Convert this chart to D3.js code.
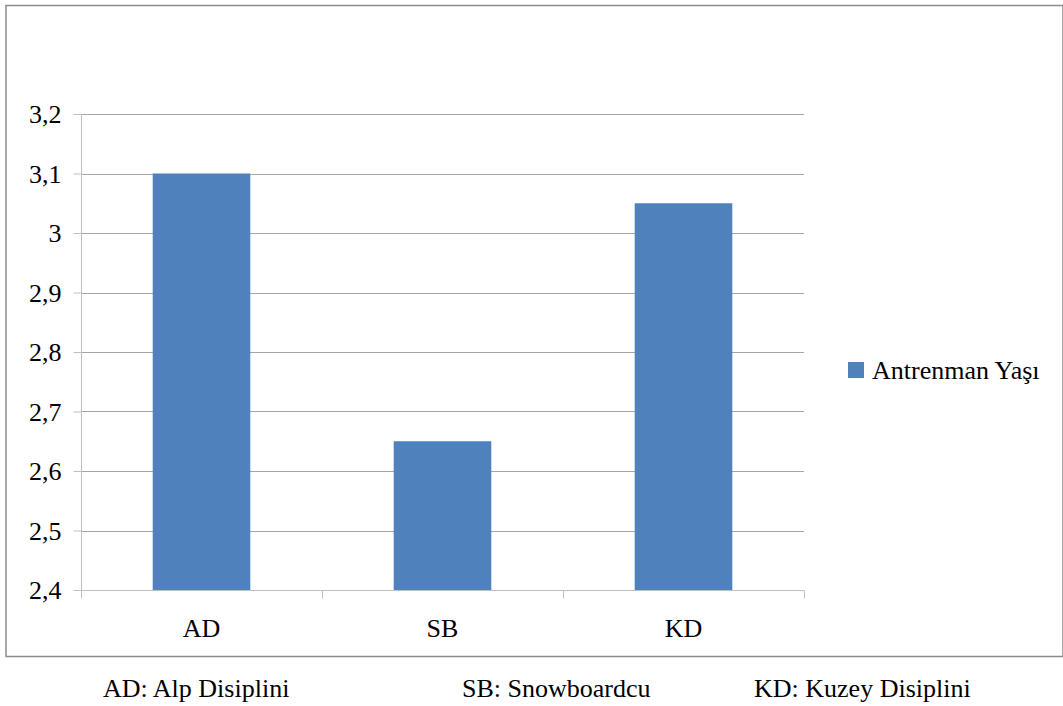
<!DOCTYPE html>
<html>
<head>
<meta charset="utf-8">
<script src="https://cdn.jsdelivr.net/npm/d3@7"></script>
</head>
<body style="margin:0;background:#fff">
<svg id="chart" width="1063" height="706" style="display:block"></svg>
<script>
// Antrenman yaşı ortalamaları, disipline göre
const categories = ["AD", "SB", "KD"];
const values = [3.1, 2.65, 3.05];
const seriesName = "Antrenman Yaşı";
const yTicks = [2.4, 2.5, 2.6, 2.7, 2.8, 2.9, 3.0, 3.1, 3.2];
const footnotes = ["AD: Alp Disiplini", "SB: Snowboardcu", "KD: Kuzey Disiplini"];
const footnoteX = [103, 462, 754];

const svg = d3.select("#chart");
const barColor = "#4f81bd";
const gridColor = "#a6a6a6";
const axisColor = "#bfbfbf";

const styleText = sel => sel
  .style("font-family", "'Liberation Serif', monospace")
  .style("font-size", "26px")
  .attr("fill", "#000");

// outer frame
svg.append("rect")
  .attr("x", 6).attr("y", 5.5)
  .attr("width", 1057).attr("height", 651)
  .attr("fill", "none").attr("stroke", "#8c8c8c").attr("stroke-width", 1.5);

const plot = { left: 81, right: 804, top: 114, bottom: 590 };

const x = d3.scaleBand().domain(categories).range([plot.left, plot.right]);
const y = d3.scaleLinear().domain([2.4, 3.2]).range([plot.bottom, plot.top]);
const fmt = d => String(+d.toFixed(1)).replace(".", ",");

// horizontal gridlines
svg.append("g").selectAll("line").data(yTicks.slice(1)).join("line")
  .attr("x1", plot.left).attr("x2", plot.right)
  .attr("y1", d => Math.round(y(d)) + 0.5).attr("y2", d => Math.round(y(d)) + 0.5)
  .attr("stroke", gridColor);

// bars
const barW = x.bandwidth() * 0.405;
svg.append("g").selectAll("rect").data(categories).join("rect")
  .attr("x", d => x(d) + (x.bandwidth() - barW) / 2)
  .attr("width", barW)
  .attr("y", (d, i) => y(values[i]))
  .attr("height", (d, i) => y(2.4) - y(values[i]))
  .attr("fill", barColor);

// y axis
const yAxis = d3.axisLeft(y).tickValues(yTicks).tickSize(8).tickPadding(12).tickFormat(fmt);
const gy = svg.append("g").attr("transform", `translate(${plot.left + 0.5},0)`).call(yAxis)
  .attr("font-family", null).attr("font-size", null);
gy.select(".domain").attr("stroke", axisColor).attr("d", `M0,${plot.top}V${plot.bottom}`);
gy.selectAll(".tick line").attr("stroke", axisColor);
gy.selectAll(".tick text").call(styleText).attr("dy", "0.34em");

// x axis: ticks at category boundaries
const gx = svg.append("g").attr("transform", `translate(0,${Math.round(y(2.4)) + 0.5})`);
gx.append("line").attr("x1", plot.left).attr("x2", plot.right).attr("stroke", axisColor);
const bounds = categories.map(c => x(c)).concat([x(categories[categories.length - 1]) + x.bandwidth()]);
gx.selectAll("line.tk").data(bounds).join("line").attr("class", "tk")
  .attr("x1", d => Math.round(d) + 0.5).attr("x2", d => Math.round(d) + 0.5)
  .attr("y1", 0).attr("y2", 8).attr("stroke", axisColor);
gx.selectAll("text").data(categories).join("text")
  .attr("x", d => x(d) + x.bandwidth() / 2)
  .attr("y", 46)
  .attr("text-anchor", "middle")
  .call(styleText)
  .text(d => d);

// legend
const lg = svg.append("g").attr("transform", "translate(848,362)");
lg.append("rect").attr("width", 16).attr("height", 16).attr("fill", barColor);
lg.append("text").attr("x", 24).attr("y", 17).call(styleText).text(seriesName);

// abbreviations under the frame
svg.append("g").selectAll("text").data(footnotes).join("text")
  .attr("x", (d, i) => footnoteX[i]).attr("y", 697)
  .call(styleText)
  .text(d => d);
</script>
</body>
</html>
